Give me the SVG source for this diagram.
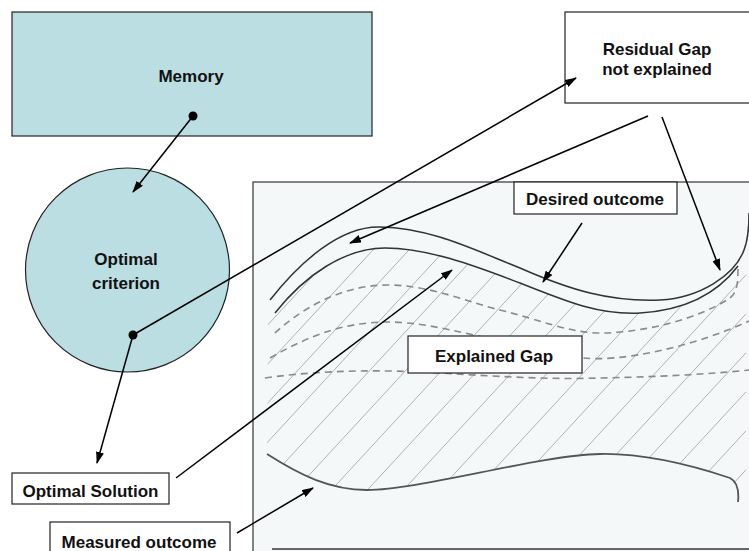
<svg xmlns="http://www.w3.org/2000/svg" width="749" height="551" viewBox="0 0 749 551">
<style>
  .lbl { font-family: "Liberation Sans", Arial, sans-serif; font-size: 17px; font-weight: bold; fill: #111; text-anchor: middle; }
  .box { fill: #ffffff; stroke: #222; stroke-width: 1.2; }
  .teal { fill: #badee2; stroke: #222; stroke-width: 1.2; }
  .conn { stroke: #000; stroke-width: 1.5; fill: none; }
  .curve { stroke: #333; stroke-width: 1.5; fill: none; }
  .dash { stroke: #8a8a8a; stroke-width: 1.6; fill: none; stroke-dasharray: 7 5; }
</style>
<defs>
  <marker id="arr" markerWidth="12" markerHeight="8" refX="11" refY="4" orient="auto" markerUnits="userSpaceOnUse">
    <path d="M0,0 L12,4 L0,8 z" fill="#000"/>
  </marker>
  <pattern id="hatch" patternUnits="userSpaceOnUse" x="0" y="30" width="36" height="39">
    <path d="M0,39 L36,0" stroke="#a8a8a8" stroke-width="0.9"/>
  </pattern>
  <clipPath id="gapclip">
    <path d="M268,313 C305,275 345,248 385,248 C430,248 480,268 520,283 C570,303 600,315 640,313 C690,310 720,290 738,266 L746,266 L746,500 L738,502 C739,492 738,482 730,478 C700,468 650,453 600,454 C540,455 420,490 367,490 C330,490 300,475 267,454 Z"/>
  </clipPath>
</defs>

<rect width="749" height="551" fill="#ffffff"/>

<g id="memory">
  <rect class="teal" x="12" y="12" width="360" height="124"/>
  <text class="lbl" x="191" y="82">Memory</text>
</g>

<g id="optimal-criterion">
  <circle class="teal" cx="127.5" cy="270" r="102"/>
  <text class="lbl" x="126" y="265">Optimal</text>
  <text class="lbl" x="126" y="289">criterion</text>
</g>

<g id="residual-gap">
  <rect class="box" x="565" y="12" width="200" height="91"/>
  <text class="lbl" x="657" y="55">Residual Gap</text>
  <text class="lbl" x="657" y="75">not explained</text>
</g>

<g id="outcome-panel">
  <rect x="253" y="182" width="520" height="390" fill="#f4f8f9" stroke="#333" stroke-width="1.2"/>
  <line x1="272" y1="549" x2="749" y2="549" stroke="#666" stroke-width="2"/>
  <rect x="255" y="240" width="494" height="270" fill="url(#hatch)" clip-path="url(#gapclip)"/>
  <path class="dash" d="M275,333 C300,310 340,285 388,285 C430,285 470,303 500,310 C540,320 570,333 600,333 C645,333 700,318 730,298 C737,292 738,285 738,266"/>
  <path class="dash" d="M270,358 C310,335 345,322 388,322 C440,322 500,345 583,358 C620,362 690,348 749,321"/>
  <path class="dash" d="M265,378 C320,370 380,370 420,372 C480,375 540,380 600,378 C650,377 700,375 749,370"/>
  <path class="curve" d="M270,300 C300,262 340,226 380,227 C430,228 470,248 520,268 C570,290 610,302 660,300 C700,298 735,275 744,250 C748,240 749,225 749,213"/>
  <path class="curve" d="M275,313 C305,275 345,248 385,248 C430,248 480,268 520,283 C570,303 600,315 640,313 C690,310 720,290 738,266"/>
  <path d="M267,454 C300,475 330,490 367,490 C420,490 540,455 600,454 C650,453 700,468 730,478 C738,482 739,492 738,502" fill="none" stroke="#555" stroke-width="1.8"/>
</g>

<g id="desired-outcome">
  <rect class="box" x="514" y="182" width="163" height="32"/>
  <text class="lbl" x="595" y="205">Desired outcome</text>
</g>

<g id="explained-gap">
  <rect class="box" x="408" y="336" width="174" height="37"/>
  <text class="lbl" x="494" y="362">Explained Gap</text>
</g>

<g id="optimal-solution">
  <rect class="box" x="12" y="473" width="157" height="31"/>
  <text class="lbl" x="90.5" y="497">Optimal Solution</text>
</g>

<g id="measured-outcome">
  <rect class="box" x="50" y="522" width="180" height="40"/>
  <text class="lbl" x="139" y="548">Measured outcome</text>
</g>

<g id="connectors">
  <line class="conn" x1="193" y1="116" x2="133" y2="192" marker-end="url(#arr)"/>
  <circle cx="193" cy="116" r="4.5" fill="#000"/>
  <line class="conn" x1="133" y1="335" x2="576" y2="78" marker-end="url(#arr)"/>
  <line class="conn" x1="133" y1="335" x2="97" y2="463" marker-end="url(#arr)"/>
  <circle cx="133" cy="335" r="4.5" fill="#000"/>
  <line class="conn" x1="648" y1="116" x2="350" y2="243" marker-end="url(#arr)"/>
  <line class="conn" x1="662" y1="117" x2="720" y2="270" marker-end="url(#arr)"/>
  <line class="conn" x1="582" y1="223" x2="543" y2="282" marker-end="url(#arr)"/>
  <line class="conn" x1="176" y1="478" x2="452" y2="270" marker-end="url(#arr)"/>
  <line class="conn" x1="237" y1="533" x2="313" y2="488" marker-end="url(#arr)"/>
</g>
</svg>
